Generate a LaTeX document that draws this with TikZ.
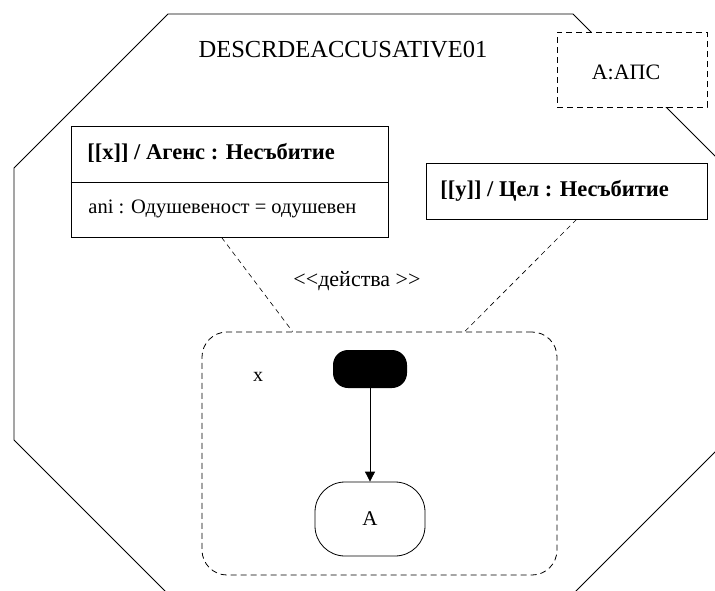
\documentclass[tikz,border=0pt]{standalone}
\usepackage{fontspec}
\setmainfont{Liberation Serif}
\usetikzlibrary{arrows.meta,calc}
\begin{document}
\begin{tikzpicture}[x=1pt,y=-1pt,line width=0.8pt,
  frame/.style={draw,inner sep=0pt},
  dashframe/.style={draw,dashed,dash pattern=on 6pt off 4pt,inner sep=0pt},
  conn/.style={draw,dash pattern=on 5pt off 4pt,line width=0.6pt},
  lbl/.style={inner sep=0pt,font=\fontsize{21}{25}\selectfont},
  boldlbl/.style={inner sep=0pt,anchor=west,font=\fontsize{22.5}{26}\selectfont\bfseries},
  attr/.style={inner sep=0pt,anchor=west,font=\fontsize{20.5}{24}\selectfont}]
\useasboundingbox (0,0) rectangle (715,590);

% outer package outline (octagon, partly outside the page)
\begin{scope}
  \clip (0,0) rectangle (715,590);
  \draw (168,14) -- (573,14) -- (727,168) -- (727,440) -- (573,594)
        -- (168,594) -- (14,440) -- (14,168) -- cycle;
\end{scope}

\node[lbl,font=\fontsize{24.5}{28}\selectfont] (title) at (343,50) {DESCRDEACCUSATIVE01};

% template parameter box
\node[dashframe,fill=white,minimum width=150pt,minimum height=75pt] (apc) at (632,69.5) {};
\node[lbl,font=\fontsize{22}{26}\selectfont] (apctext) at (626,72) {A:АПС};

% agent classifier
\node[frame,minimum width=317pt,minimum height=111pt] (agent) at (229.5,181.5) {};
\coordinate (sep) at (0,182);
\draw (agent.west |- sep) -- (agent.east |- sep);
\node[boldlbl] (agenttitle) at (87,153) {[[x]] / Агенс : Несъбитие};
\node[attr] (agentattr) at (88,209) {ani : Одушевеност = одушевен};

% target classifier
\node[frame,minimum width=281pt,minimum height=56pt] (target) at (566.5,191) {};
\node[boldlbl] (targettitle) at (440,191) {[[y]] / Цел : Несъбитие};

\node[lbl,font=\fontsize{22}{26}\selectfont] (stereo) at (357,281) {{<}{<}действа {>}{>}};

% activity region
\node[dashframe,rounded corners=25pt,minimum width=355pt,minimum height=243pt] (region) at (379.5,453.5) {};
\node[lbl,font=\fontsize{20}{24}\selectfont] (xlbl) at (258,377) {x};
\node[fill=black,rounded corners=15pt,minimum width=74pt,minimum height=38pt,inner sep=0pt] (start) at (370,369) {};
\node[frame,rounded corners=30pt,minimum width=110pt,minimum height=74pt,font=\fontsize{21}{25}\selectfont] (stateA) at (370,519) {A};
\draw[-{Triangle[length=10pt,width=10pt]}] (start) -- (stateA);

% binding connectors
\draw[conn] ($(agent.south west)+(151,0)$) -- ($(region.north west)+(91,0)$);
\draw[conn] ($(target.south west)+(151,0)$) -- ($(region.north west)+(263,0)$);
\end{tikzpicture}
\end{document}
